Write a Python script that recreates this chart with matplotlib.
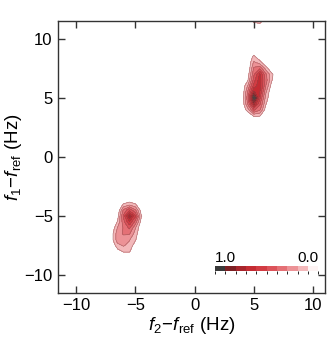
import numpy as np
import matplotlib
import matplotlib.pyplot as plt
from matplotlib.colors import ListedColormap, BoundaryNorm

matplotlib.use("Agg")

plt.rcParams["font.family"] = ["Liberation Sans", "DejaVu Sans"]
plt.rcParams["mathtext.fontset"] = "custom"
plt.rcParams["mathtext.rm"] = "Liberation Sans"
plt.rcParams["mathtext.it"] = "Liberation Sans:italic"

# frequency axis (Hz), 0.5 Hz bins
freq = np.arange(-11.5, 11.51, 0.5)

# peak near (f2, f1) = (5, 5): columns f2 = 4..7, rows f1 = 9..3
peak_hi_f2 = [4.0, 4.5, 5.0, 5.5, 6.0, 6.5, 7.0]
peak_hi_f1 = [9.0, 8.5, 8.0, 7.5, 7.0, 6.5, 6.0, 5.5, 5.0, 4.5, 4.0, 3.5, 3.0]
peak_hi = [
    [0.00, 0.00, 0.00, 0.00, 0.00, 0.00, 0.00],
    [0.00, 0.00, 0.13, 0.00, 0.00, 0.00, 0.00],
    [0.00, 0.00, 0.22, 0.15, 0.00, 0.00, 0.00],
    [0.00, 0.00, 0.32, 0.38, 0.16, 0.00, 0.00],
    [0.00, 0.05, 0.38, 0.62, 0.32, 0.13, 0.00],
    [0.00, 0.10, 0.45, 0.66, 0.36, 0.11, 0.00],
    [0.00, 0.22, 0.55, 0.66, 0.30, 0.05, 0.00],
    [0.00, 0.32, 0.72, 0.60, 0.22, 0.00, 0.00],
    [0.00, 0.38, 1.00, 0.52, 0.16, 0.00, 0.00],
    [0.00, 0.32, 0.72, 0.42, 0.11, 0.00, 0.00],
    [0.00, 0.16, 0.42, 0.32, 0.05, 0.00, 0.00],
    [0.00, 0.00, 0.12, 0.11, 0.00, 0.00, 0.00],
    [0.00, 0.00, 0.00, 0.00, 0.00, 0.00, 0.00],
]

# peak near (f2, f1) = (-5.5, -5): columns f2 = -7..-4, rows f1 = -3.5..-8.5
peak_lo_f2 = [-7.0, -6.5, -6.0, -5.5, -5.0, -4.5, -4.0]
peak_lo_f1 = [-3.5, -4.0, -4.5, -5.0, -5.5, -6.0, -6.5, -7.0, -7.5, -8.0, -8.5]
peak_lo = [
    [0.00, 0.00, 0.00, 0.00, 0.00, 0.00, 0.00],
    [0.00, 0.00, 0.11, 0.16, 0.11, 0.00, 0.00],
    [0.00, 0.00, 0.32, 0.48, 0.32, 0.05, 0.00],
    [0.00, 0.05, 0.42, 0.78, 0.52, 0.11, 0.00],
    [0.00, 0.11, 0.36, 0.58, 0.36, 0.05, 0.00],
    [0.00, 0.21, 0.31, 0.42, 0.21, 0.00, 0.00],
    [0.05, 0.26, 0.31, 0.31, 0.15, 0.00, 0.00],
    [0.05, 0.26, 0.26, 0.21, 0.11, 0.00, 0.00],
    [0.00, 0.16, 0.21, 0.16, 0.05, 0.00, 0.00],
    [0.00, 0.05, 0.11, 0.11, 0.00, 0.00, 0.00],
    [0.00, 0.00, 0.00, 0.00, 0.00, 0.00, 0.00],
]

# small fragment at the top edge
edge_f2 = [5.0, 5.5]
edge_f1 = [11.5]
edge = [[0.13, 0.16]]

level_colors = ["#fdf3f3", "#f3b8ba", "#ec9296", "#e47075", "#dc535a",
                "#d23c43", "#c42c33", "#a8252c", "#7c2024", "#3a3a3a"]
levels = np.linspace(0, 1, 11)


def place(grid, f2s, f1s, vals):
    for i, f1 in enumerate(f1s):
        for j, f2 in enumerate(f2s):
            r = int(np.argmin(np.abs(freq - f1)))
            c = int(np.argmin(np.abs(freq - f2)))
            grid[r, c] = vals[i][j]


Z = np.zeros((len(freq), len(freq)))
place(Z, peak_hi_f2, peak_hi_f1, peak_hi)
place(Z, peak_lo_f2, peak_lo_f1, peak_lo)
place(Z, edge_f2, edge_f1, edge)

cmap = ListedColormap(level_colors)
norm = BoundaryNorm(levels, cmap.N)

fig = plt.figure(figsize=(3.33, 3.41), dpi=100)
ax = fig.add_axes([0.175, 0.141, 0.801, 0.797])

cf = ax.contourf(freq, freq, Z, levels=levels[1:], cmap=ListedColormap(level_colors[1:]),
                 norm=BoundaryNorm(levels[1:], 9))
ax.contour(freq, freq, Z, levels=levels[1:], colors="#8a4a4c", linewidths=0.5, alpha=0.6)

ax.set_xlim(-11.5, 11.0)
ax.set_ylim(-11.5, 11.5)
ax.set_xticks([-10, -5, 0, 5, 10])
ax.set_yticks([-10, -5, 0, 5, 10])
ax.tick_params(direction="in", top=True, right=True, length=5, width=1,
               labelsize=12, color="#333333", pad=4)
for s in ax.spines.values():
    s.set_color("#333333")
    s.set_linewidth(1)
ax.set_xlabel(r"$f_2\!-\!f_\mathrm{ref}$ (Hz)", fontsize=13.5, labelpad=1)
ax.set_ylabel(r"$f_1\!-\!f_\mathrm{ref}$ (Hz)", fontsize=13.5, labelpad=0)

# level key
cax = fig.add_axes([0.646, 0.205, 0.31, 0.014])
sm = matplotlib.cm.ScalarMappable(norm=norm, cmap=cmap)
cb = fig.colorbar(sm, cax=cax, orientation="horizontal")
cb.outline.set_visible(False)
cax.invert_xaxis()
cax.set_xticks([])
fig.text(0.646, 0.224, "1.0", fontsize=11, ha="left", va="bottom")
fig.text(0.956, 0.224, "0.0", fontsize=11, ha="right", va="bottom")

fig.savefig("out.png", dpi=100)
